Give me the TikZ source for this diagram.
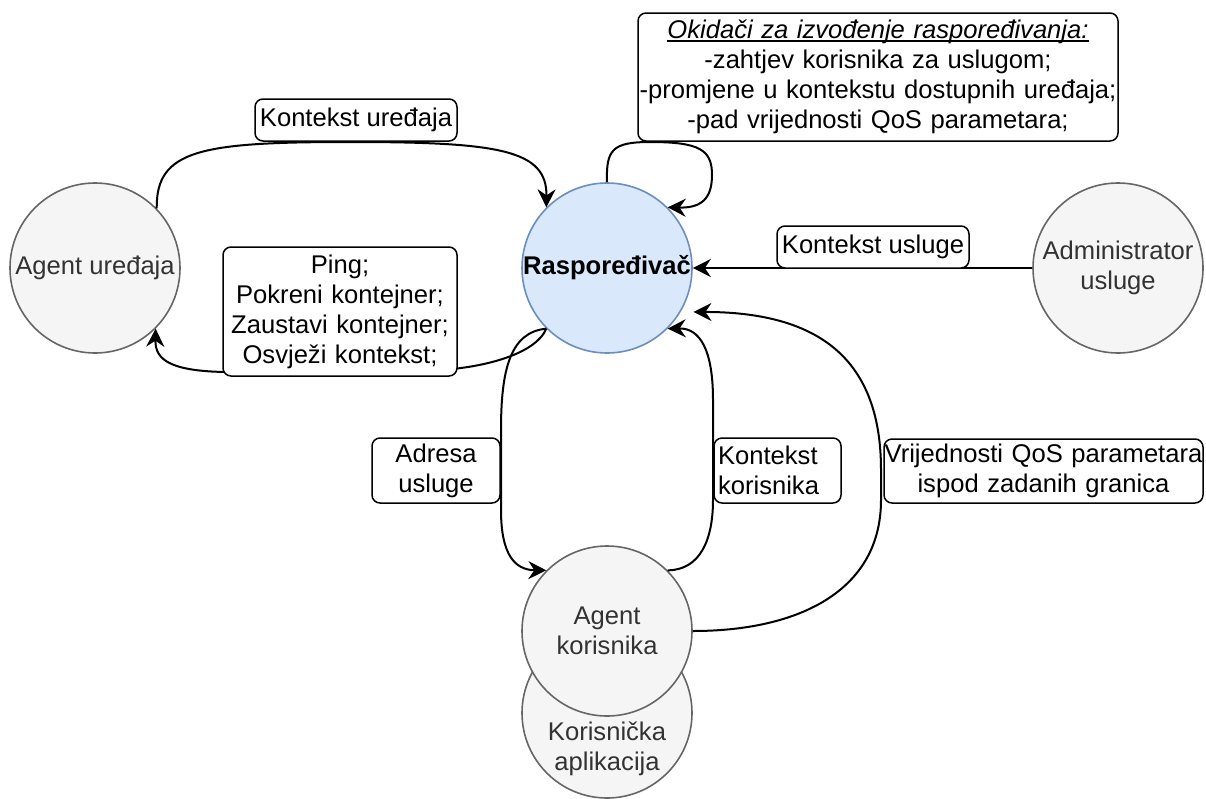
\documentclass[tikz,border=0pt]{standalone}
\usepackage{fontspec}
\setmainfont{Liberation Sans}
\usetikzlibrary{arrows.meta}
\definecolor{bluefill}{HTML}{DAE8FC}
\definecolor{blueline}{HTML}{6C8EBF}
\definecolor{grayfill}{HTML}{F5F5F5}
\definecolor{grayline}{HTML}{666666}
\definecolor{graytext}{HTML}{333333}
\newcommand\myuline[1]{\setbox0\hbox{#1}\rlap{\rule[-3pt]{\wd0}{1.6pt}}\box0}
\begin{document}
\begin{tikzpicture}[x=1pt,y=-1pt, font=\fontsize{25.6}{30}\selectfont,
  circ/.style={circle, minimum size=170pt, inner sep=0pt, draw=grayline, fill=grayfill, line width=1.6pt, text=graytext, align=center},
  sched/.style={circ, draw=blueline, fill=bluefill, text=black, font=\fontsize{25.6}{30}\selectfont\bfseries},
  lbl/.style={draw=black, fill=white, rounded corners=8pt, line width=1.5pt, align=center, inner sep=0pt},
  edge/.style={line width=2pt, -{Stealth[length=18pt,width=18pt,inset=6pt]}}]
\useasboundingbox (0,0) rectangle (1206,798);
% nodes
\node[circ] (au) at (95,268) {Agent uređaja};
\node[sched] (r) at (607,268) {Raspoređivač};
\node[circ] (adm) at (1118,268) {Administrator\\usluge};
\node[circ] (ka) at (607,713) {};
\node[text=graytext, align=center, inner sep=0pt] (kat) at (607,749) {Korisnička\\aplikacija};
\node[circ] (ak) at (607,631) {Agent\\korisnika};
% edges
\draw[edge] (au.44) .. controls (156,150) and (200,142) .. (350,142) .. controls (500,142) and (547,150) .. (r.135);
\draw[edge] (r.225) .. controls (535,355) and (480,370) .. (420,371) -- (240,372) .. controls (170,373) and (155,360) .. (au.-45);
\draw[edge] (r.225) .. controls (510,332) and (501,370) .. (501,430) -- (501,510) .. controls (501,555) and (515,570) .. (ak.135);
\draw[edge] (r.90) .. controls (606,150) and (612,142) .. (650,142) .. controls (700,142) and (712,150) .. (712,175) .. controls (712,200) and (700,208) .. (r.45);
\draw[edge] (adm.west) -- (r.east);
\draw[edge] (ak.45) .. controls (700,570) and (713,540) .. (713,500) -- (713,400) .. controls (713,350) and (700,328) .. (r.-45);
\draw[edge] (ak.east) .. controls (800,631) and (881,590) .. (881,500) -- (881,470) .. controls (881,360) and (820,312) .. ([xshift=10pt,yshift=-5pt]r.-27);
% labels
\node[lbl, minimum width=202pt, minimum height=42pt] (l1) at (356,120) {Kontekst uređaja};
\node[lbl, text width=480pt, minimum height=128pt] (l2) at (878,77) {\myuline{\textit{Okidači za izvođenje raspoređivanja:}}\\-zahtjev korisnika za uslugom;\\-promjene u kontekstu dostupnih uređaja;\\-pad vrijednosti QoS parametara;};
\node[lbl, text width=234pt, minimum height=129pt] (l3) at (340,311.5) {Ping;\\Pokreni kontejner;\\Zaustavi kontejner;\\Osvježi kontekst;};
\node[lbl, minimum width=192pt, minimum height=42pt] (l4) at (873,247) {Kontekst usluge};
\node[lbl, text width=128pt, minimum height=65pt] (l5) at (436,470.5) {Adresa\\usluge};
\node[lbl, text width=119pt, inner xsep=4pt, align=left, minimum height=65pt] (l6) at (777.5,470.5) {Kontekst\\korisnika};
\node[lbl, text width=319pt, minimum height=64pt] (l7) at (1043.5,471) {Vrijednosti QoS parametara\\ispod zadanih granica};
\end{tikzpicture}
\end{document}
